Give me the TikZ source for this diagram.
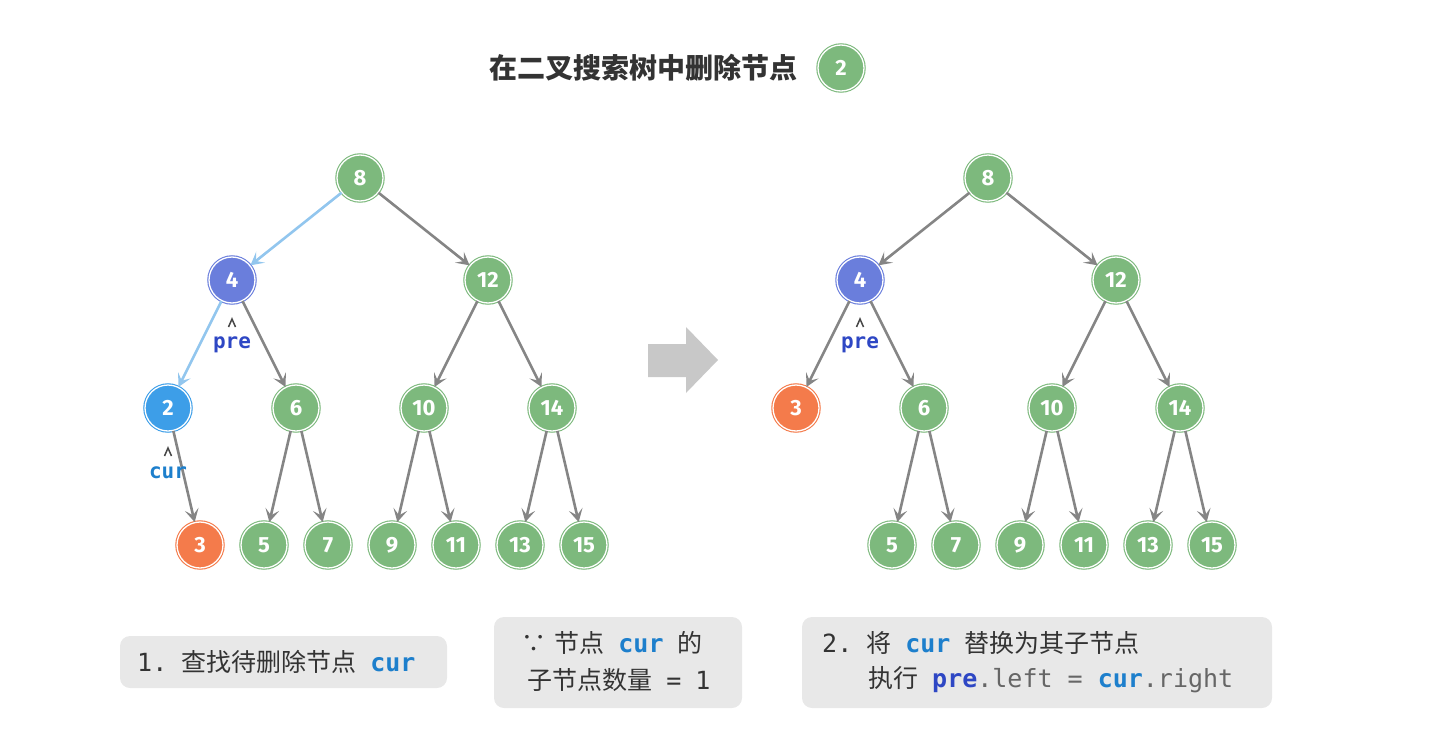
\documentclass[tikz,border=0pt]{standalone}
\usepackage{fontspec}
\setmainfont{Noto Sans CJK SC}
\newfontfamily\cjk{Noto Sans CJK SC}
\newfontfamily\mono{DejaVu Sans Mono}
\newfontfamily\numf{Fira Sans}
\usetikzlibrary{arrows.meta}
\definecolor{gnode}{HTML}{7DB97D}
\definecolor{bnode}{HTML}{6A7EDC}
\definecolor{cnode}{HTML}{3D9EE8}
\definecolor{onode}{HTML}{F47B4B}
\definecolor{ledge}{HTML}{92C6EE}
\definecolor{gedge}{HTML}{858585}
\definecolor{boxg}{HTML}{E8E8E8}
\definecolor{preC}{HTML}{2E47C4}
\definecolor{curC}{HTML}{1D7FCC}
\definecolor{txt}{HTML}{333333}
\definecolor{codeg}{HTML}{666666}
\definecolor{arrg}{HTML}{C8C8C8}
\tikzset{
  tn/.style={circle, minimum size=46pt, inner sep=0pt, fill=#1, draw=#1,
    double=white, double distance=1.3pt, line width=1.1pt, text=white,
    font=\numf\bfseries\fontsize{22}{22}\selectfont},
  tn/.default=gnode,
  lnk/.style={draw=gedge, line width=2.6pt, -{Stealth[length=13pt,width=14pt,inset=6pt]}},
  hlnk/.style={lnk, draw=ledge},
  notebox/.style={fill=boxg, rounded corners=10pt},
  caret/.style={draw=txt!90, line width=1.5pt},
  lab/.style={font=\mono\bfseries\fontsize{21}{21}\selectfont},
  ntext/.style={font=\cjk\fontsize{25}{25}\selectfont, text=txt, inner sep=0pt},
}
\newcommand{\mc}[1]{{\mono\fontsize{25}{25}\selectfont #1}}
\newcommand{\mcb}[2]{{\mono\bfseries\fontsize{25}{25}\selectfont\color{#1}#2}}
\newcommand{\gap}{\hspace{14pt}}
\begin{document}
\begin{tikzpicture}[x=1pt,y=-1pt]
\useasboundingbox (0,0) rectangle (1448,752);
% title
\node[font=\cjk\bfseries\fontsize{28}{28}\selectfont, text=txt] (title) at (643,68) {在二叉搜索树中删除节点};
\node[tn] (t2) at (841,68) {2};
% left tree
\node[tn] (a8) at (360,178) {8};
\node[tn=bnode] (a4) at (232,280) {4};
\node[tn] (a12) at (488,280) {12};
\node[tn=cnode] (a2) at (168,408) {2};
\node[tn] (a6) at (296,408) {6};
\node[tn] (a10) at (424,408) {10};
\node[tn] (a14) at (552,408) {14};
\node[tn=onode] (a3) at (200,545) {3};
\node[tn] (a5) at (264,545) {5};
\node[tn] (a7) at (328,545) {7};
\node[tn] (a9) at (392,545) {9};
\node[tn] (a11) at (456,545) {11};
\node[tn] (a13) at (520,545) {13};
\node[tn] (a15) at (584,545) {15};
\draw[hlnk] (a8) -- (a4);
\draw[lnk] (a8) -- (a12);
\draw[hlnk] (a4) -- (a2);
\draw[lnk] (a4) -- (a6);
\draw[lnk] (a12) -- (a10);
\draw[lnk] (a12) -- (a14);
\draw[lnk] (a2) -- (a3);
\draw[lnk] (a6) -- (a5);
\draw[lnk] (a6) -- (a7);
\draw[lnk] (a10) -- (a9);
\draw[lnk] (a10) -- (a11);
\draw[lnk] (a14) -- (a13);
\draw[lnk] (a14) -- (a15);
\draw[caret] (228.5,327) -- (232,319) -- (235.5,327);
\node[lab, text=preC] (apre) at (232,345) {pre};
\draw[caret] (164.5,456) -- (168,448) -- (171.5,456);
\node[lab, text=curC] (acur) at (168,473) {cur};
% big arrow
\fill[arrg] (648,344) -- (686,344) -- (686,327) -- (718,360) -- (686,393) -- (686,377) -- (648,377) -- cycle;
% right tree
\node[tn] (b8) at (988,178) {8};
\node[tn=bnode] (b4) at (860,280) {4};
\node[tn] (b12) at (1116,280) {12};
\node[tn=onode] (b3) at (796,408) {3};
\node[tn] (b6) at (924,408) {6};
\node[tn] (b10) at (1052,408) {10};
\node[tn] (b14) at (1180,408) {14};
\node[tn] (b5) at (892,545) {5};
\node[tn] (b7) at (956,545) {7};
\node[tn] (b9) at (1020,545) {9};
\node[tn] (b11) at (1084,545) {11};
\node[tn] (b13) at (1148,545) {13};
\node[tn] (b15) at (1212,545) {15};
\draw[lnk] (b8) -- (b4);
\draw[lnk] (b8) -- (b12);
\draw[lnk] (b4) -- (b3);
\draw[lnk] (b4) -- (b6);
\draw[lnk] (b12) -- (b10);
\draw[lnk] (b12) -- (b14);
\draw[lnk] (b6) -- (b5);
\draw[lnk] (b6) -- (b7);
\draw[lnk] (b10) -- (b9);
\draw[lnk] (b10) -- (b11);
\draw[lnk] (b14) -- (b13);
\draw[lnk] (b14) -- (b15);
\draw[caret] (856.5,327) -- (860,319) -- (863.5,327);
\node[lab, text=preC] (bpre) at (860,345) {pre};
% notes
\fill[notebox] (120,636) rectangle (447,688);
\node[ntext, anchor=west] (n1) at (137,662) {\mc{1.}\gap 查找待删除节点\gap\mcb{curC}{cur}};
\fill[notebox] (494,617) rectangle (742,708);
\node[ntext, anchor=center] (n2a) at (612,643) {∵\hspace{8pt}节点\gap\mcb{curC}{cur}\gap 的};
\node[ntext, anchor=center] (n2b) at (619,680) {子节点数量\gap\mc{=}\gap\mc{1}};
\fill[notebox] (802,617) rectangle (1272,708);
\node[ntext, anchor=west] (n3a) at (822,643) {\mc{2.}\gap 将\gap\mcb{curC}{cur}\gap 替换为其子节点};
\node[ntext, anchor=west] (n3b) at (868,680) {执行\gap\mcb{preC}{pre}{\color{codeg}\mc{.left = }}\mcb{curC}{cur}{\color{codeg}\mc{.right}}};
\end{tikzpicture}
\end{document}
